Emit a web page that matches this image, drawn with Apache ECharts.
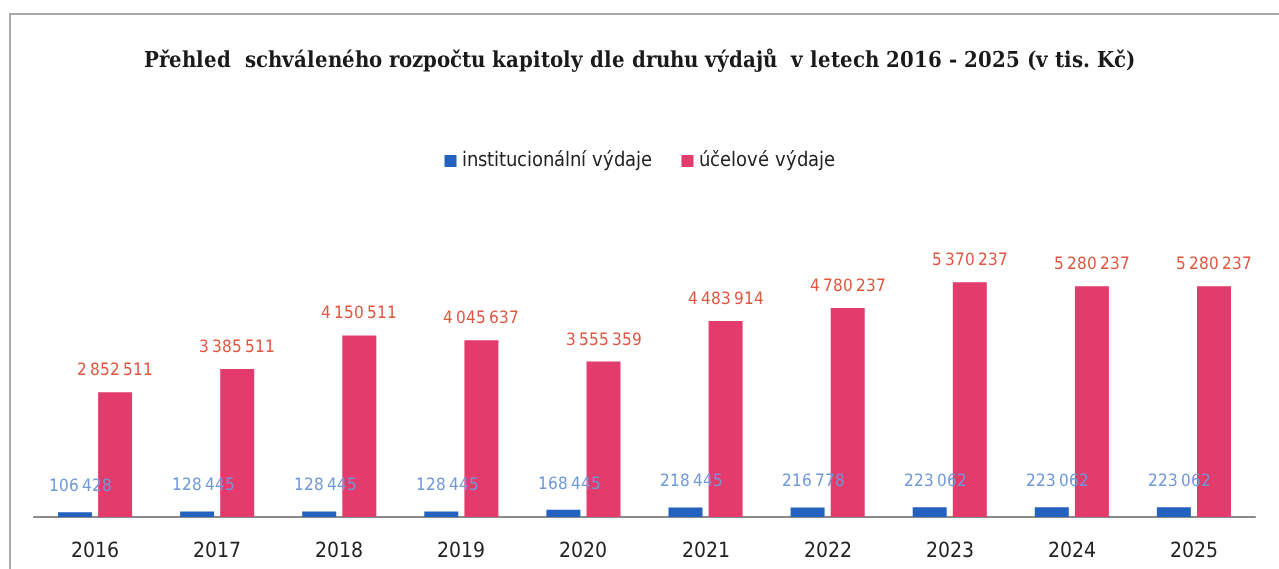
<!DOCTYPE html>
<html>
<head>
<meta charset="utf-8">
<script src="https://cdn.jsdelivr.net/npm/echarts@6/dist/echarts.min.js"></script>
<style>
  @font-face {
    font-family: 'NarrowSans';
    src: local('Liberation Sans Narrow'), local('LiberationSansNarrow-Regular'),
         local('DejaVu Sans Condensed'), local('DejaVuSansCondensed');
  }
  @font-face {
    font-family: 'NarrowSerifBold';
    src: local('DejaVu Serif Condensed Bold'), local('DejaVuSerifCondensed-Bold'),
         local('Liberation Serif Bold'), local('LiberationSerif-Bold');
  }
  html, body { margin: 0; padding: 0; background: #fff; }
  #chart { width: 1279px; height: 569px; }
</style>
</head>
<body>
<div id="chart"></div>
<script>
  // hodnoty v tis. Kč
  var years = ['2016', '2017', '2018', '2019', '2020', '2021', '2022', '2023', '2024', '2025'];
  var instVydaje = [106428, 128445, 128445, 128445, 168445, 218445, 216778, 223062, 223062, 223062];
  var ucelVydaje = [2852511, 3385511, 4150511, 4045637, 3555359, 4483914, 4780237, 5370237, 5280237, 5280237];

  var narrow = 'NarrowSans, "DejaVu Sans", sans-serif';

  // oddělovač tisíců – úzká mezera
  function fmt(v) {
    return String(v).replace(/\B(?=(\d{3})+(?!\d))/g, '\u202F');
  }

  function draw() {
    var chart = echarts.init(document.getElementById('chart'));
    chart.setOption({
      animation: false,
      title: {
        text: 'Přehled  schváleného rozpočtu kapitoly dle druhu výdajů  v letech 2016 - 2025 (v tis. Kč)',
        left: 'center',
        top: 45,
        textStyle: {
          fontFamily: 'NarrowSerifBold, "DejaVu Serif", serif',
          fontWeight: 'bold',
          fontSize: 22,
          color: '#1a1a1a'
        }
      },
      legend: {
        top: 146,
        left: 'center',
        itemWidth: 12,
        itemHeight: 12,
        itemGap: 30,
        icon: 'rect',
        textStyle: { fontFamily: narrow, fontSize: 20, color: '#222' },
        data: ['institucionální výdaje', 'účelové výdaje']
      },
      graphic: [{
        type: 'rect',
        shape: { x: 10, y: 14, width: 1300, height: 600 },
        style: { fill: 'none', stroke: '#aaa', lineWidth: 2 },
        silent: true
      }],
      grid: { left: 34, right: 24, top: 211, bottom: 52 },
      xAxis: {
        type: 'category',
        data: years,
        axisTick: { show: false },
        axisLine: { lineStyle: { color: '#8a8a8a', width: 2 } },
        axisLabel: { fontFamily: narrow, fontSize: 21, color: '#222', margin: 24 }
      },
      yAxis: {
        type: 'value',
        min: 0,
        max: 7000000,
        show: false,
        splitLine: { show: false }
      },
      series: [
        {
          name: 'institucionální výdaje',
          type: 'bar',
          data: instVydaje,
          barWidth: 34,
          barGap: '18%',
          itemStyle: { color: '#2462bf' },
          label: {
            show: true,
            position: 'top',
            distance: 17,
            offset: [6, 0],
            fontFamily: narrow,
            fontSize: 17,
            color: '#6e98d8',
            formatter: function (p) { return fmt(p.value); }
          }
        },
        {
          name: 'účelové výdaje',
          type: 'bar',
          data: ucelVydaje,
          barWidth: 34,
          itemStyle: { color: '#e33c6c' },
          label: {
            show: true,
            position: 'top',
            distance: 13,
            fontFamily: narrow,
            fontSize: 17,
            color: '#e0563e',
            formatter: function (p) { return fmt(p.value); }
          }
        }
      ]
    });
  }

  Promise.all([
    document.fonts.load('20px NarrowSans'),
    document.fonts.load('bold 20px NarrowSerifBold')
  ]).then(draw, draw);
</script>
</body>
</html>
